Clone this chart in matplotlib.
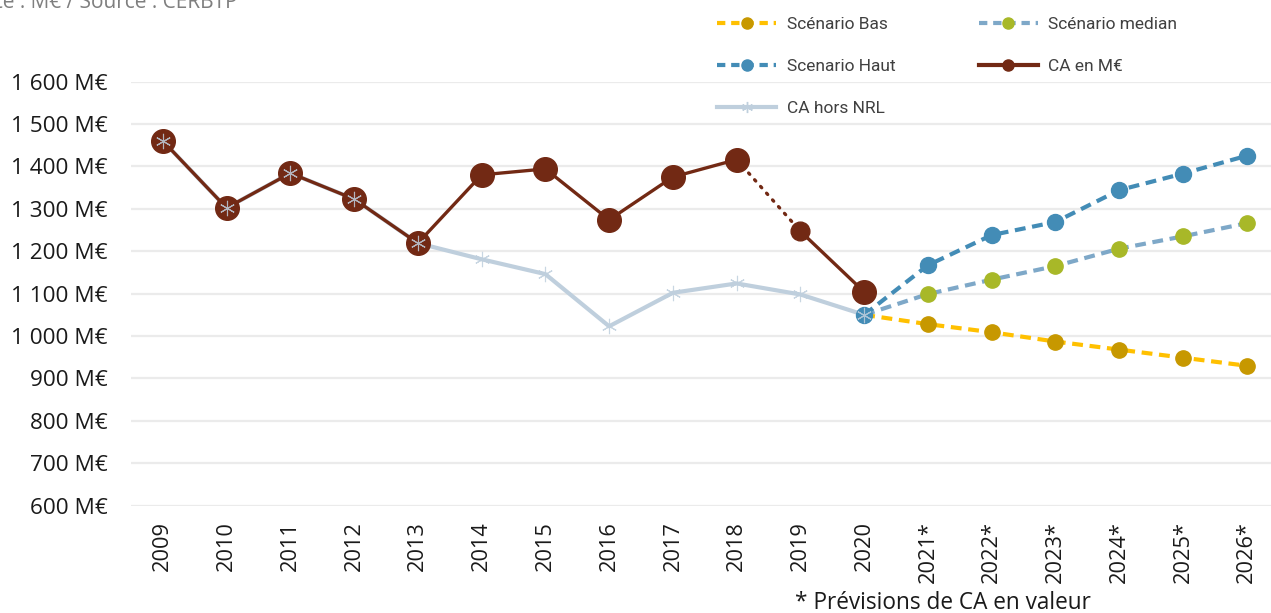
import numpy as np
import matplotlib
matplotlib.use("Agg")
import matplotlib.pyplot as plt
from matplotlib.lines import Line2D

# ---------------------------------------------------------------------
# Data (M€)
# ---------------------------------------------------------------------
years = ["2009", "2010", "2011", "2012", "2013", "2014", "2015", "2016", "2017",
         "2018", "2019", "2020", "2021*", "2022*", "2023*", "2024*", "2025*", "2026*"]

ca = [1460, 1302, 1384, 1323, 1219, 1380, 1394, 1274, 1375, 1416, 1247, 1104]
ca_hors_nrl = [1460, 1302, 1384, 1323, 1219, 1181, 1146, 1023, 1102, 1124, 1098, 1050]

# scenarios start from the 2020 "hors NRL" value
scen_bas = [1050, 1028, 1009, 987, 968, 949, 930]
scen_median = [1050, 1099, 1133, 1165, 1206, 1235, 1266]
scen_haut = [1050, 1167, 1238, 1269, 1344, 1383, 1425]

y_ticks = [600, 700, 800, 900, 1000, 1100, 1200, 1300, 1400, 1500, 1600]

# ---------------------------------------------------------------------
# Style
# ---------------------------------------------------------------------
plt.rcParams["font.family"] = ["Open Sans", "DejaVu Sans"]

brown = "#722914"
blue = "#438CB6"
med_line = "#7EA8C8"
med_mark = "#A8B828"
bas_line = "#FFC000"
bas_mark = "#C79800"
nrl = "#BFCFDD"

x = np.arange(len(years))
x_ca = x[:len(ca)]
x_scen = x[len(ca) - 1:]

fig = plt.figure(figsize=(12.71, 6.13), dpi=100)
ax = fig.add_axes([0.103, 0.175, 0.897, 0.692])

ax.set_ylim(600, 1600)
ax.set_xlim(-0.5, 17.38)
ax.set_yticks(y_ticks)
ax.set_yticklabels([f"{v:,} M€".replace(",", " ") for v in y_ticks])
ax.set_xticks(x)
ax.set_xticklabels(years, rotation=90)
ax.tick_params(axis="both", length=0, colors="#1a1a1a")
ax.tick_params(axis="y", pad=17, labelsize=16.2)
ax.tick_params(axis="x", pad=11, labelsize=15.7)
for s in ax.spines.values():
    s.set_visible(False)
ax.grid(axis="y", color="#EBEBEB", linewidth=1.6, zorder=0)
ax.set_axisbelow(True)

# scenarios
ax.plot(x_scen, scen_bas, color=bas_line, lw=3, dashes=(2.6, 1.6), zorder=3)
ax.plot(x_scen[1:], scen_bas[1:], ls="none", marker="o", ms=11, color=bas_mark, zorder=4)
ax.plot(x_scen, scen_median, color=med_line, lw=3, dashes=(2.6, 1.6), zorder=3)
ax.plot(x_scen[1:], scen_median[1:], ls="none", marker="o", ms=11, color=med_mark, zorder=4)
ax.plot(x_scen, scen_haut, color=blue, lw=3, dashes=(2.6, 1.6), marker="o", ms=11.5, zorder=3)

# CA hors NRL
ax.plot(x_ca, ca_hors_nrl, color=nrl, lw=3, zorder=2)

# CA en M€ : solid, dotted 2018-2019, solid
ax.plot(x_ca[:10], ca[:10], color=brown, lw=2.4, zorder=5)
ax.plot(x_ca[9:11], ca[9:11], color=brown, lw=2.4, ls=(0, (0.5, 2.2)),
        dash_capstyle="round", zorder=5)
ax.plot(x_ca[10:], ca[10:], color=brown, lw=2.4, zorder=5)
big = [i for i in range(len(ca)) if i != 10]
ax.plot(x_ca[big], np.array(ca)[big], ls="none", marker="o", ms=17, color=brown, zorder=6)
ax.plot(x_ca[10:11], ca[10:11], ls="none", marker="o", ms=13.5, color=brown, zorder=6)

# hors NRL star markers on top
ax.plot(x_ca, ca_hors_nrl, ls="none", marker=(6, 2, 0), ms=11, mew=0.8,
        color=nrl, alpha=0.85, zorder=7)

# legend
handles = [
    Line2D([], [], color=bas_line, lw=3, dashes=(2.0, 1.4), marker="o", ms=8,
           markerfacecolor=bas_mark, markeredgecolor=bas_mark),
    Line2D([], [], color=blue, lw=3, dashes=(2.0, 1.4), marker="o", ms=8),
    Line2D([], [], color=nrl, lw=3, marker=(6, 2, 0), ms=8, mew=1),
    Line2D([], [], color=med_line, lw=3, dashes=(2.0, 1.4), marker="o", ms=8,
           markerfacecolor=med_mark, markeredgecolor=med_mark),
    Line2D([], [], color=brown, lw=3, marker="o", ms=8),
]
labels = ["Scénario Bas", "Scenario Haut", "CA hors NRL", "Scénario median", "CA en M€"]
leg = fig.legend(handles, labels, ncol=2, frameon=False, loc="upper left",
                 bbox_to_anchor=(0.552, 0.998), prop={"family": "Roboto", "size": 12.5},
                 handlelength=3.4, handletextpad=0.6, labelspacing=1.55,
                 columnspacing=4.8, labelcolor="#404040")

# annotations
fig.text(-38 / 1271, 1 - 8 / 613, "Unité : M€ / Source : CERBTP", fontsize=15,
         color="#7f7f7f", va="baseline", ha="left")
fig.text(795 / 1271, 0.006, "* Prévisions de CA en valeur", fontsize=16.3,
         color="#1a1a1a", va="baseline", ha="left")

fig.savefig("out.png", dpi=100)
